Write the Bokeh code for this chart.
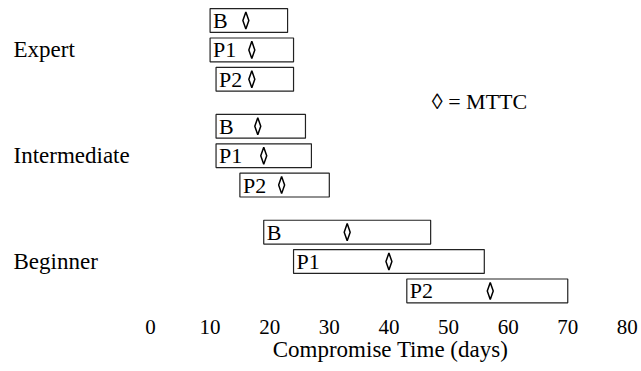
from bokeh.plotting import figure
from bokeh.layouts import row
from bokeh.models import Range1d, FixedTicker, ColumnDataSource, Label
from bokeh.core.properties import value
from bokeh.embed import file_html
from bokeh.resources import INLINE

# ---- data (days) ----
groups = ["Expert", "Intermediate", "Beginner"]
phases = ["B", "P1", "P2"]
start_days = [10, 10, 11, 11, 11, 15, 19, 24, 43]
end_days = [23, 24, 24, 26, 27, 30, 47, 56, 70]
mttc_days = [16, 17, 17, 18, 19, 22, 33, 40, 57]
x_ticks = [0, 10, 20, 30, 40, 50, 60, 70, 80]
x_title = "Compromise Time (days)"
legend_text = "\u25CA = MTTC"

FONT = "Liberation Serif"
GROUP_STEP = 3.6
DIA_HW = 0.5    # diamond half-width (days)
DIA_HH = 0.29   # diamond half-height (rows)

rows, bar_labels = [], []
for gi, g in enumerate(groups):
    for pi, ph in enumerate(phases):
        rows.append(gi * GROUP_STEP + pi)
        bar_labels.append(ph)

dia_xs = [[m - DIA_HW, m, m + DIA_HW, m] for m in mttc_days]
dia_ys = [[r, r - DIA_HH, r, r + DIA_HH] for r in rows]

src = ColumnDataSource(dict(row=rows, start=start_days, end=end_days,
                            mttc=mttc_days, label=bar_labels))
dsrc = ColumnDataSource(dict(xs=dia_xs, ys=dia_ys))
gsrc = ColumnDataSource(dict(name=groups, x=[0] * len(groups),
                             y=[gi * GROUP_STEP + 1 for gi in range(len(groups))]))

yr = Range1d(9.90, -0.68)

# left panel: group names
pl = figure(width=143, height=371, output_backend="svg", toolbar_location=None,
            x_range=Range1d(0, 1), y_range=yr,
            min_border_left=0, min_border_right=0, min_border_top=0,
            min_border_bottom=60)
pl.outline_line_color = None
pl.grid.visible = False
pl.axis.visible = False
pl.text(x="x", y="y", text="name", source=gsrc, x_offset=13,
        text_font=value(FONT), text_font_size="23px", text_color="black",
        text_align="left", text_baseline="middle")

# main panel
p = figure(width=498, height=371, output_backend="svg", toolbar_location=None,
           x_range=Range1d(-1.17, 81.7), y_range=yr,
           min_border_left=0, min_border_right=4, min_border_top=0,
           min_border_bottom=60)
p.outline_line_color = None
p.grid.visible = False
p.yaxis.visible = False

ax = p.xaxis[0]
ax.ticker = FixedTicker(ticks=x_ticks)
ax.axis_line_color = None
ax.major_tick_line_color = None
ax.minor_tick_line_color = None
ax.major_tick_out = 0
ax.major_tick_in = 0
ax.major_label_text_font = FONT
ax.major_label_text_font_size = "21px"
ax.major_label_text_color = "black"
ax.major_label_standoff = 8
ax.axis_label = x_title
ax.axis_label_text_font = FONT
ax.axis_label_text_font_size = "23px"
ax.axis_label_text_font_style = "normal"
ax.axis_label_text_color = "black"
ax.axis_label_standoff = 0

p.hbar(y="row", left="start", right="end", height=0.81, source=src,
       fill_color="white", line_color="#222222", line_width=1.2)
p.text(x="start", y="row", text="label", source=src, x_offset=3,
       text_font=value(FONT), text_font_size="22px", text_color="black",
       text_align="left", text_baseline="middle")
p.patches(xs="xs", ys="ys", source=dsrc, fill_color="white",
          line_color="black", line_width=1.5)

p.add_layout(Label(x=47.2, y=2.75, text=legend_text, text_font=FONT,
                   text_font_size="22px", text_color="black",
                   text_align="left", text_baseline="middle"))

layout = row(pl, p, spacing=0)
open("out.html", "w").write(file_html(layout, INLINE))
